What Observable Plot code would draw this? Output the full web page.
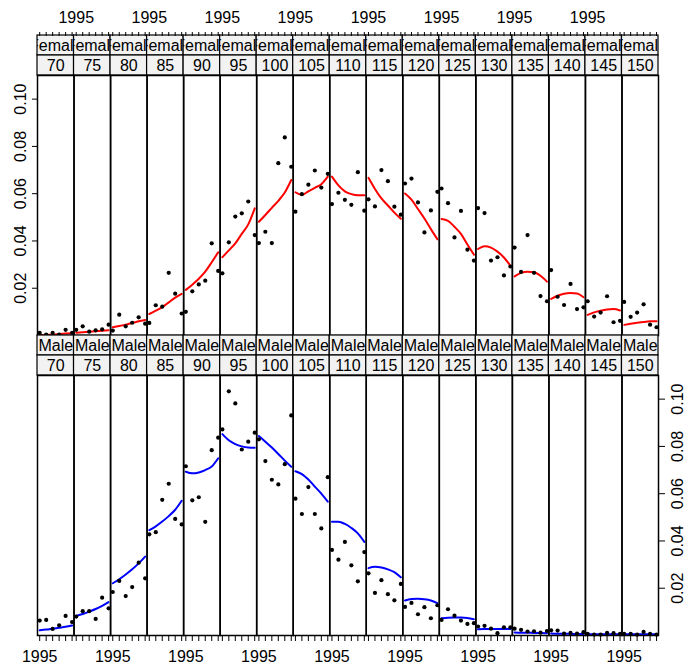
<!DOCTYPE html>
<html><head><meta charset="utf-8">
<script src="https://cdn.jsdelivr.net/npm/d3@7"></script>
<script src="https://cdn.jsdelivr.net/npm/@observablehq/plot@0.6"></script>
<style>
body{margin:0;background:#fff;}
#chart{width:686px;}
#chart svg{display:block;overflow:visible;}
</style></head><body><div id="chart"></div>
<script>
const ages = [70,75,80,85,90,95,100,105,110,115,120,125,130,135,140,145,150];
const years = [1995,1996,1997,1998,1999,2000];
const sexLabels = ["Female","Male"];
const yTicks = [0.02,0.04,0.06,0.08,0.10];
const yearLabel = "1995";
const topLabelAges = [75,85,95,105,115,125,135,145];
const bottomLabelAges = [70,80,90,100,110,120,130,140,150];

const femalePoints = [
  [0.0011,0.0004,0.0011,0.0004,0.0024,0.0011],
  [0.0024,0.0039,0.0016,0.0022,0.0026,0.0046],
  [0.0021,0.0088,0.0039,0.0054,0.0077,0.0050],
  [0.0053,0.0128,0.0122,0.0265,0.0177,0.0093],
  [0.0100,0.0187,0.0216,0.0232,0.0390,0.0273],
  [0.0263,0.0394,0.0503,0.0517,0.0567,0.0425],
  [0.0391,0.0439,0.0391,0.0729,0.0838,0.0714],
  [0.0524,0.0598,0.0638,0.0698,0.0626,0.0684],
  [0.0556,0.0604,0.0574,0.0553,0.0691,0.0528],
  [0.0576,0.0546,0.0700,0.0653,0.0545,0.0511],
  [0.0643,0.0664,0.0563,0.0436,0.0529,0.0608],
  [0.0622,0.0560,0.0415,0.0527,0.0363,0.0317],
  [0.0539,0.0518,0.0317,0.0331,0.0254,0.0292],
  [0.0372,0.0269,0.0425,0.0265,0.0167,0.0145],
  [0.0277,0.0164,0.0129,0.0218,0.0112,0.0119],
  [0.0145,0.0080,0.0097,0.0166,0.0056,0.0062],
  [0.0142,0.0079,0.0097,0.0132,0.0046,0.0035]
];
const femaleFit = [
  [0.0002,0.0003,0.0004,0.0006,0.0008,0.0010],
  [0.0012,0.0014,0.0016,0.0018,0.0020,0.0022],
  [0.0035,0.0040,0.0046,0.0053,0.0060,0.0066],
  [0.0091,0.0105,0.0120,0.0140,0.0160,0.0176],
  [0.0193,0.0215,0.0240,0.0270,0.0310,0.0352],
  [0.0331,0.0360,0.0390,0.0430,0.0470,0.0538],
  [0.0481,0.0510,0.0540,0.0570,0.0605,0.0658],
  [0.0606,0.0595,0.0610,0.0625,0.0640,0.0672],
  [0.0672,0.0635,0.0610,0.0598,0.0593,0.0593],
  [0.0667,0.0620,0.0580,0.0550,0.0520,0.0494],
  [0.0601,0.0575,0.0535,0.0495,0.0450,0.0407],
  [0.0493,0.0485,0.0460,0.0430,0.0385,0.0342],
  [0.0366,0.0378,0.0372,0.0355,0.0330,0.0295],
  [0.0250,0.0265,0.0270,0.0268,0.0253,0.0228],
  [0.0155,0.0168,0.0177,0.0180,0.0178,0.0162],
  [0.0087,0.0098,0.0105,0.0110,0.0112,0.0106],
  [0.0045,0.0050,0.0054,0.0057,0.0060,0.0060]
];
const malePoints = [
  [0.0063,0.0066,0.0028,0.0043,0.0083,0.0057],
  [0.0080,0.0103,0.0103,0.0070,0.0160,0.0115],
  [0.0184,0.0231,0.0167,0.0205,0.0308,0.0242],
  [0.0428,0.0437,0.0574,0.0642,0.0493,0.0470],
  [0.0716,0.0572,0.0585,0.0481,0.0784,0.0837],
  [0.0872,0.1033,0.0982,0.0787,0.0820,0.0858],
  [0.0830,0.0738,0.0659,0.0639,0.0725,0.0931],
  [0.0579,0.0514,0.0628,0.0514,0.0453,0.0670],
  [0.0362,0.0321,0.0396,0.0297,0.0229,0.0353],
  [0.0263,0.0180,0.0234,0.0175,0.0149,0.0218],
  [0.0121,0.0138,0.0090,0.0120,0.0073,0.0128],
  [0.0066,0.0111,0.0084,0.0063,0.0049,0.0052],
  [0.0038,0.0041,0.0029,0.0010,0.0035,0.0035],
  [0.0029,0.0024,0.0017,0.0018,0.0012,0.0019],
  [0.0022,0.0021,0.0008,0.0011,0.0008,0.0014],
  [0.0007,0.0004,0.0004,0.0011,0.0010,0.0007],
  [0.0007,0.0007,0.0004,0.0015,0.0007,0.0004]
];
const maleFit = [
  [0.0022,0.0025,0.0029,0.0033,0.0037,0.0042],
  [0.0083,0.0091,0.0101,0.0112,0.0125,0.0141],
  [0.0221,0.0238,0.0258,0.0280,0.0305,0.0334],
  [0.0446,0.0462,0.0482,0.0505,0.0532,0.0570],
  [0.0693,0.0686,0.0690,0.0700,0.0715,0.0750],
  [0.0852,0.0826,0.0810,0.0800,0.0795,0.0794],
  [0.0844,0.0820,0.0795,0.0768,0.0740,0.0714],
  [0.0695,0.0683,0.0660,0.0630,0.0600,0.0566],
  [0.0481,0.0481,0.0472,0.0455,0.0432,0.0396],
  [0.0285,0.0291,0.0288,0.0280,0.0268,0.0246],
  [0.0148,0.0154,0.0155,0.0153,0.0148,0.0137],
  [0.0073,0.0075,0.0076,0.0076,0.0074,0.0069],
  [0.0026,0.0027,0.0028,0.0028,0.0028,0.0027],
  [0.0013,0.0012,0.0012,0.0011,0.0011,0.0010],
  [0.0008,0.0007,0.0007,0.0007,0.0006,0.0006],
  [0.0005,0.0005,0.0005,0.0005,0.0005,0.0005],
  [0.0005,0.0005,0.0005,0.0005,0.0005,0.0005]
];

function tidy(table) {
  return ages.flatMap((age, i) => years.map((year, j) => ({age, year, value: table[i][j]})));
}

const W = 686, ML = 37, MR = 28;
const font = {fontFamily: "'Liberation Sans', Arial, Helvetica, sans-serif", fontSize: "16px", background: "white"};
const fxScale = {domain: ages, padding: 0, round: false, axis: null};
const xScale = {domain: [1994.66, 2000.3], axis: null};
const yScale = {domain: [0, 0.11], axis: null};
const yFmt = d3.format(".2f");
const stripRows = ages.flatMap(age => [{age, row: "sex"}, {age, row: "age"}]);

function header(sex, withTopAxis) {
  const marks = [
    Plot.cell(stripRows, {fx: "age", y: "row", fill: "#f2f2f2", stroke: "black", strokeWidth: 1.2}),
    Plot.text(stripRows, {fx: "age", y: "row", text: d => d.row === "sex" ? sex : String(d.age), clip: true, fill: "black"})
  ];
  if (withTopAxis) {
    marks.push(Plot.axisX({anchor: "top", ticks: years, tickSize: 4, tickFormat: () => "", label: null}));
    marks.push(Plot.text(topLabelAges, {fx: d => d, x: () => years[0], text: () => yearLabel, frameAnchor: "top", lineAnchor: "bottom", dy: -13}));
  }
  return Plot.plot({
    width: W, height: withTopAxis ? 75 : 40,
    marginTop: withTopAxis ? 35 : 0, marginBottom: 0, marginLeft: ML, marginRight: MR,
    style: font,
    fx: fxScale, x: xScale,
    y: {domain: ["sex", "age"], padding: 0, round: false, axis: null},
    marks
  });
}

function panel(points, fit, color, bottom) {
  const marks = [
    Plot.line(tidy(fit), {fx: "age", x: "year", y: "value", stroke: color, strokeWidth: 2, curve: "monotone-x"}),
    Plot.dot(tidy(points), {fx: "age", x: "year", y: "value", r: 2.1, fill: "black"}),
    Plot.frame({stroke: "black", strokeWidth: 1.5})
  ];
  if (!bottom) {
    marks.push(Plot.axisY({anchor: "left", ticks: yTicks, tickSize: 5, tickPadding: 7, tickRotate: -90, lineAnchor: "bottom", tickFormat: yFmt, label: null}));
  } else {
    marks.push(Plot.axisY({anchor: "right", ticks: yTicks, tickSize: 6, tickPadding: 7, tickRotate: -90, lineAnchor: "top", tickFormat: yFmt, label: null}));
    marks.push(Plot.axisX({anchor: "bottom", ticks: years, tickSize: 6, tickFormat: () => "", label: null}));
    marks.push(Plot.text(bottomLabelAges, {fx: d => d, x: () => years[0], text: () => yearLabel, frameAnchor: "bottom", lineAnchor: "top", dy: 15}));
  }
  return Plot.plot({
    width: W, height: bottom ? 295 : 260,
    marginTop: 0, marginBottom: bottom ? 35 : 0, marginLeft: ML, marginRight: MR,
    style: font,
    fx: fxScale, x: xScale, y: yScale,
    marks
  });
}

const root = document.getElementById("chart");
root.append(header(sexLabels[0], true));
root.append(panel(femalePoints, femaleFit, "red", false));
root.append(header(sexLabels[1], false));
root.append(panel(malePoints, maleFit, "blue", true));
</script>
</body></html>
